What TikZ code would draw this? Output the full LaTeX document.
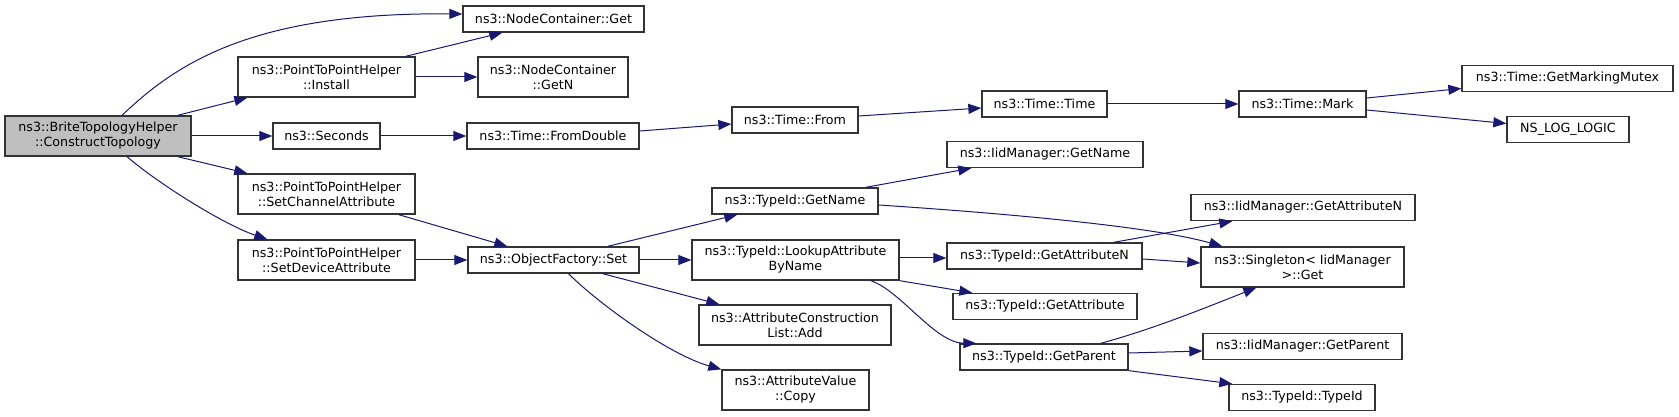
\documentclass[tikz,border=0pt]{standalone}
\usepackage{fontspec}
\setmainfont{DejaVu Sans}
\usetikzlibrary{
  arrows.meta,
  calc
}
\definecolor{edgeblue}{HTML}{191970}
\definecolor{rootgray}{HTML}{BFBFBF}
\tikzset{
  >={Triangle[length=9.75pt,width=7.5pt]},
  line cap=round,
  line join=round,
  fnbox/.style={draw=black!80, line width=1pt, fill=white, minimum height=19.5pt,
    inner sep=1pt, align=center, font=\fontsize{9.5}{11.25}\selectfont},
  fnboxtwo/.style={fnbox, minimum height=30pt},
  rootbox/.style={fnboxtwo, fill=rootgray},
  call/.style={->, draw=edgeblue, line width=0.75pt}
}

\begin{document}
\begin{tikzpicture}[x=0.75pt, y=-0.75pt]
  \useasboundingbox (0,0) rectangle (1679,417);

  \node[rootbox, minimum width=139.5pt] (root) at (98,136) {ns3::BriteTopologyHelper\\::ConstructTopology};

  \node[fnboxtwo, minimum width=132.75pt] (install) at (326.5,77) {ns3::PointToPointHelper\\::Install};
  \node[fnbox, minimum width=80.25pt] (seconds) at (326.5,136) {ns3::Seconds};
  \node[fnboxtwo, minimum width=132.75pt] (setchan) at (326.5,194) {ns3::PointToPointHelper\\::SetChannelAttribute};
  \node[fnboxtwo, minimum width=132.75pt] (setdev) at (326.5,260) {ns3::PointToPointHelper\\::SetDeviceAttribute};

  \node[fnbox, minimum width=135.75pt] (ncget) at (553.5,19) {ns3::NodeContainer::Get};
  \node[fnboxtwo, minimum width=112.5pt] (ncgetn) at (553,77) {ns3::NodeContainer\\::GetN};
  \node[fnbox, minimum width=129pt] (fromdbl) at (553,136) {ns3::Time::FromDouble};
  \node[fnbox, minimum width=128.25pt] (ofset) at (553.5,260) {ns3::ObjectFactory::Set};

  \node[fnbox, minimum width=94.5pt] (tfrom) at (795,120) {ns3::Time::From};
  \node[fnbox, minimum width=124.5pt] (tgetname) at (795,201) {ns3::TypeId::GetName};
  \node[fnboxtwo, minimum width=155.25pt] (lookup) at (795.5,260) {ns3::TypeId::LookupAttribute\\ByName};
  \node[fnboxtwo, minimum width=144pt] (acladd) at (795,325) {ns3::AttributeConstruction\\List::Add};
  \node[fnboxtwo, minimum width=110.25pt] (avcopy) at (795.5,390) {ns3::AttributeValue\\::Copy};

  \node[fnbox, minimum width=93.75pt] (ttime) at (1044.5,104) {ns3::Time::Time};
  \node[fnbox, minimum width=147pt] (igetname) at (1045,154.5) {ns3::IidManager::GetName};
  \node[fnbox, minimum width=146.25pt] (tgetattrn) at (1044.5,256) {ns3::TypeId::GetAttributeN};
  \node[fnbox, minimum width=138pt] (tgetattr) at (1045,306.5) {ns3::TypeId::GetAttribute};
  \node[fnbox, minimum width=126pt] (tgetparent) at (1044,357) {ns3::TypeId::GetParent};

  \node[fnbox, minimum width=95.25pt] (tmark) at (1302.5,104) {ns3::Time::Mark};
  \node[fnbox, minimum width=168pt] (igetattrn) at (1303,207.5) {ns3::IidManager::GetAttributeN};
  \node[fnboxtwo, minimum width=152.25pt] (singleton) at (1302.5,267) {ns3::Singleton< IidManager\\ >::Get};
  \node[fnbox, minimum width=149.25pt] (igetparent) at (1302.5,346.5) {ns3::IidManager::GetParent};
  \node[fnbox, minimum width=109.5pt] (ttypeid) at (1302,397.5) {ns3::TypeId::TypeId};

  \node[fnbox, minimum width=158.25pt] (mutex) at (1567.5,78.5) {ns3::Time::GetMarkingMutex};
  \node[fnbox, minimum width=91.5pt] (nslog) at (1568,129.5) {NS\_LOG\_LOGIC};

  % calls from the root
  \draw[call] ($(root.north)+(24,0)$) .. controls (175,65) and (250,12) .. ($(ncget.west)+(0,-5)$);
  \draw[call] ($(root.north east)+(-14,0)$) -- ($(install.south west)+(10,0)$);
  \draw[call] (root.east) -- (seconds.west);
  \draw[call] ($(root.south east)+(-14,0)$) -- ($(setchan.north west)+(10,0)$);
  \draw[call] ($(root.south)+(29,0)$) .. controls (160,185) and (225,225) .. ($(setdev.north west)+(30,0)$);

  \draw[call] ($(install.north east)+(-10,0)$) -- ($(ncget.south west)+(40,0)$);
  \draw[call] (install.east) -- (ncgetn.west);
  \draw[call] (seconds.east) -- (fromdbl.west);
  \draw[call] ($(fromdbl.east)+(0,-5)$) -- ($(tfrom.west)+(0,4)$);
  \draw[call] ($(tfrom.east)+(0,-4)$) -- ($(ttime.west)+(0,4)$);
  \draw[call] (ttime.east) -- (tmark.west);
  \draw[call] ($(tmark.east)+(0,-6)$) -- ($(mutex.west)+(0,10)$);
  \draw[call] ($(tmark.east)+(0,6)$) -- ($(nslog.west)+(0,-6)$);

  \draw[call] ($(setchan.south east)+(-17,0)$) -- ($(ofset.north west)+(40,0)$);
  \draw[call] (setdev.east) -- (ofset.west);
  \draw[call] ($(ofset.north east)+(-32,0)$) -- ($(tgetname.south west)+(26,0)$);
  \draw[call] (ofset.east) -- (lookup.west);
  \draw[call] ($(ofset.south east)+(-37,0)$) -- ($(acladd.north west)+(21,0)$);
  \draw[call] ($(ofset.south)+(15,0)$) .. controls (600,305) and (670,355) .. (avcopy.north west);

  \draw[call] ($(tgetname.north east)+(-13,0)$) -- ($(igetname.south west)+(25,0)$);
  \draw[call] ($(tgetname.east)+(0,4)$) .. controls (1000,213) and (1150,226) .. ($(singleton.north west)+(22,0)$);
  \draw[call] ($(lookup.east)+(0,-2)$) -- ($(tgetattrn.west)+(0,2)$);
  \draw[call] (lookup.south east) -- ($(tgetattr.north west)+(20,0)$);
  \draw[call] ($(lookup.south east)+(-29,0)$) .. controls (900,290) and (935,343) .. ($(tgetparent.north west)+(17,0)$);

  \draw[call] ($(tgetattrn.north east)+(-29,0)$) -- ($(igetattrn.south west)+(42,0)$);
  \draw[call] ($(tgetattrn.east)+(0,3)$) -- ($(singleton.west)+(0,-4)$);
  \draw[call] ($(tgetparent.north east)+(-28,0)$) .. controls (1150,330) and (1200,310) .. ($(singleton.south west)+(56,0)$);
  \draw[call] ($(tgetparent.east)+(0,-4)$) -- ($(igetparent.west)+(0,4.5)$);
  \draw[call] (tgetparent.south east) -- ($(ttypeid.north west)+(4,0)$);
\end{tikzpicture}
\end{document}
